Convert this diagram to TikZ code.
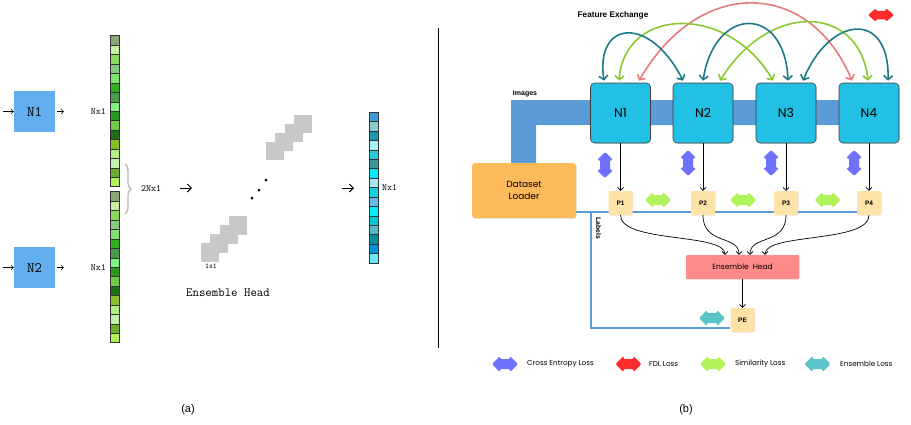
\documentclass[tikz,border=0pt]{standalone}
\usepackage{fontspec}
\setmainfont{Liberation Sans}
\newfontfamily\popf{Poppins}
\usetikzlibrary{arrows.meta,decorations.pathreplacing,shadows}
\pgfdeclarelayer{bgwhite}
\pgfdeclarelayer{background}
\pgfsetlayers{bgwhite,background,main}
\definecolor{nblue}{HTML}{62AEEE}
\definecolor{ncyan}{HTML}{22C0E4}
\definecolor{bandblue}{HTML}{5B9BD8}
\definecolor{dlorange}{HTML}{FDBA5A}
\definecolor{pyellow}{HTML}{FDE3A8}
\definecolor{ehred}{HTML}{FF8A8A}
\definecolor{purp}{HTML}{7070FF}
\definecolor{fdlred}{HTML}{FF2A2A}
\definecolor{simgreen}{HTML}{B2F25A}
\definecolor{enscyan}{HTML}{5BC4C8}
\definecolor{tealarc}{HTML}{1B7A86}
\definecolor{greenarc}{HTML}{8CC832}
\definecolor{redarc}{HTML}{E47C7C}
\definecolor{sqgray}{HTML}{C8C8C8}
\tikzset{
  lbox/.style={fill=nblue, minimum size=41pt, inner sep=0pt, font=\ttfamily\fontsize{14.5}{16}\selectfont},
  cellb/.style={draw=black!80, line width=0.5pt},
  smallarr/.style={-{Straight Barb[length=2.5pt,width=4.5pt]}, line width=0.5pt},
  bigarr/.style={-{Straight Barb[length=4pt,width=8pt]}, line width=1pt},
  monolbl/.style={font=\ttfamily\fontsize{9.5}{11}\selectfont, inner sep=0pt},
  nbox/.style={rounded corners=4pt, fill=ncyan, draw=black!75, line width=0.6pt, minimum size=60pt, inner sep=0pt,
    font=\popf\fontsize{12.5}{14}\selectfont, drop shadow={opacity=0.2,shadow xshift=0.8pt,shadow yshift=-0.8pt}},
  pbox/.style={rounded corners=2pt, fill=pyellow, minimum size=24pt, inner sep=0pt,
    font=\bfseries\fontsize{6.5}{8}\selectfont, drop shadow={opacity=0.2,shadow xshift=0.6pt,shadow yshift=-0.6pt}},
  dlbox/.style={rounded corners=3pt, fill=dlorange, minimum width=104pt, minimum height=55pt, align=center,
    font=\popf\fontsize{9}{12}\selectfont, drop shadow={opacity=0.2,shadow xshift=0.8pt,shadow yshift=-0.8pt}},
  ehbox/.style={rounded corners=1pt, fill=ehred, minimum width=113pt, minimum height=24pt, inner sep=0pt,
    font=\popf\fontsize{7.5}{9}\selectfont, drop shadow={opacity=0.2,shadow xshift=0.6pt,shadow yshift=-0.6pt}},
  blk/.style={-{Straight Barb[length=3pt,width=6pt]}, line width=0.7pt},
  arcbase/.style={{Straight Barb[length=4pt,width=9pt]}-{Straight Barb[length=4pt,width=9pt]}, line width=1.6pt},
  labline/.style={draw=bandblue, line width=1.2pt},
  legtext/.style={anchor=west, font=\popf\fontsize{7.2}{9}\selectfont, inner sep=0pt},
  dblarr/.pic={\fill[#1, rounded corners=1.2pt] (-13,0) -- (-5,-8) -- (-5,-5) -- (5,-5) -- (5,-8) -- (13,0) -- (5,8) -- (5,5) -- (-5,5) -- (-5,8) -- cycle;}
}
\begin{document}
\begin{tikzpicture}[x=1pt,y=-1pt]
\begin{pgfonlayer}{bgwhite}
\fill[white] (0,0) rectangle (911,424);
\end{pgfonlayer}
\useasboundingbox (0,0) rectangle (911,424);

%% ---------------- (a) ----------------
\node[lbox] (a1) at (34.5,111.5) {N1};
\node[lbox] (a2) at (34.5,267.5) {N2};
\coordinate (a1in) at (3,111.5);
\coordinate (a2in) at (3,267.5);
\coordinate (a1out) at (64,111.5);
\coordinate (a2out) at (64,267.5);
\draw[smallarr] (a1in) -- (a1.west);
\draw[smallarr] (a2in) -- (a2.west);
\draw[smallarr] ([xshift=2pt]a1.east) -- (a1out);
\draw[smallarr] ([xshift=2pt]a2.east) -- (a2out);

\foreach \c [count=\i from 0] in {88A878,C8EEA0,8AD860,88C880,80E070,30B020,4A9A50,80F080,28981E,70CC48,1E6E18,8ABE28,B0F080,C4F0B0,6CAE2C,B0F058}{
  \definecolor{tmpc}{HTML}{\c}
  \draw[cellb, fill=tmpc] (110.7,35.7+9.44*\i) rectangle ++(8.6,9.44);
  \draw[cellb, fill=tmpc] (110.7,191.7+9.44*\i) rectangle ++(8.6,9.44);
}
\node[monolbl, anchor=east] (nx1a) at (106,111.5) {Nx1};
\node[monolbl, anchor=east] (nx1b) at (106,267.5) {Nx1};
\draw[decorate, decoration={brace, amplitude=6pt}, draw=black!27, line width=1.4pt] (125,164) -- (125,214);
\node[monolbl, anchor=west] (twonx1) at (141,189) {2Nx1};

\coordinate (ar1s) at (180,188);
\coordinate (ar1e) at (192,188);
\draw[bigarr] (ar1s) -- (ar1e);

\foreach \i in {0,...,3}{
  \fill[sqgray] (201+9.33*\i,243-9*\i) rectangle ++(18,19);
  \fill[sqgray] (266+9.33*\i,142-9*\i) rectangle ++(18,18);
}
\fill (252,198) circle[radius=1.5pt];
\fill (259,190) circle[radius=1.5pt];
\fill (266,180) circle[radius=1.5pt];
\node[font=\ttfamily\fontsize{7.5}{8}\selectfont, inner sep=0pt] (onex1) at (211,266) {1x1};
\node[font=\ttfamily\fontsize{12.5}{14}\selectfont, inner sep=0pt] (ensa) at (228,293) {Ensemble Head};

\coordinate (ar2s) at (342,188);
\coordinate (ar2e) at (354,188);
\draw[bigarr] (ar2s) -- (ar2e);

\foreach \c [count=\i from 0] in {3A9AD8,88CCD0,1A9AA8,A8F0F8,28C8D8,3A9898,08E8F8,A8E8EC,18D0E0,6AB8F0,08EEF8,08C8D8,58B8C0,088E98,0890E0,68E8F0}{
  \definecolor{tmpc}{HTML}{\c}
  \draw[cellb, fill=tmpc] (369.3,112+9.44*\i) rectangle ++(8.6,9.44);
}
\node[monolbl, anchor=west] (nx1c) at (382,187.5) {Nx1};

\coordinate (sept) at (438,28);
\coordinate (sepb) at (438,348);
\draw[line width=0.8pt] (sept) -- (sepb);

\node[font=\fontsize{11}{13}\selectfont] (capa) at (188,410) {(a)};
\node[font=\fontsize{11}{13}\selectfont] (capb) at (686,410) {(b)};

%% ---------------- (b) ----------------
\fill[bandblue] (511,163) -- (511,100) -- (869,100) -- (869,125) -- (536,125) -- (536,163) -- cycle;
\node[font=\bfseries\fontsize{7}{8}\selectfont, inner sep=0pt] (imgs) at (525,94) {Images};

\node[nbox] (n1) at (620.5,113) {N1};
\node[nbox] (n2) at (703,113) {N2};
\node[nbox] (n3) at (786,113) {N3};
\node[nbox] (n4) at (869,113) {N4};

\node[dlbox] (dl) at (524,190.5) {Dataset\\Loader};

\node[pbox] (p1) at (620.5,203) {P1};
\node[pbox] (p2) at (703,203) {P2};
\node[pbox] (p3) at (786,203) {P3};
\node[pbox] (p4) at (869,203) {P4};

\node[ehbox] (eh) at (742.5,267) {Ensemble\ \ Head};
\node[pbox] (pe) at (742.5,320) {PE};

\coordinate (lbl) at (591,212);
\coordinate (lbb) at (591,328);
\begin{pgfonlayer}{background}
\draw[labline] (dl.east |- lbl) -- (p4.west |- lbl);
\draw[labline] (lbl) -- (lbb) -- (pe.west |- lbb);
\end{pgfonlayer}
\node[rotate=-90, font=\bfseries\fontsize{6.8}{8}\selectfont, inner sep=0pt] (lbls) at (598.5,228.5) {Labels};

\node[font=\bfseries\fontsize{8.2}{10}\selectfont, inner sep=0pt] (fex) at (613,15) {Feature Exchange};

% N -> P
\draw[blk] (n1.south) -- (p1.north);
\draw[blk] (n2.south) -- (p2.north);
\draw[blk] (n3.south) -- (p3.north);
\draw[blk] (n4.south) -- (p4.north);

% P -> Ensemble head
\draw[blk] (p1.south) .. controls +(0,28) and +(0,-22) .. ([xshift=-17.5pt]eh.north);
\draw[blk] (p2.south) .. controls +(0,30) and +(0,-20) .. ([xshift=-3.5pt]eh.north);
\draw[blk] (p3.south) .. controls +(0,30) and +(0,-20) .. ([xshift=7.5pt]eh.north);
\draw[blk] (p4.south) .. controls +(0,28) and +(0,-22) .. ([xshift=22.5pt]eh.north);
\draw[blk] (eh.south) -- (pe.north);

% feature exchange arcs
\draw[arcbase, draw=redarc] ([xshift=18.5pt,yshift=2pt]n1.north) .. controls (700,-25) and (810,-20) .. ([xshift=-17pt,yshift=2pt]n4.north);
\draw[arcbase, draw=greenarc] ([xshift=-1.5pt,yshift=2pt]n1.north) .. controls (625,5) and (730,5) .. ([xshift=-13pt,yshift=2pt]n3.north);
\draw[arcbase, draw=greenarc] ([xshift=17pt,yshift=2pt]n2.north) .. controls (770,0) and (860,5) .. ([xshift=-1pt,yshift=2pt]n4.north);
\draw[arcbase, draw=tealarc] ([xshift=-16.5pt,yshift=2pt]n1.north) .. controls (595,20) and (650,15) .. ([xshift=-20pt,yshift=2pt]n2.north);
\draw[arcbase, draw=tealarc] ([xshift=0pt,yshift=2pt]n2.north) .. controls (715,5) and (785,5) .. ([xshift=2pt,yshift=2pt]n3.north);
\draw[arcbase, draw=tealarc] ([xshift=17pt,yshift=2pt]n3.north) .. controls (830,15) and (890,10) .. ([xshift=19pt,yshift=2pt]n4.north);

% loss arrows
\pic[rotate=90] at (605,165) {dblarr=purp};
\pic[rotate=90] at (688,163) {dblarr=purp};
\pic[rotate=90] at (771,163) {dblarr=purp};
\pic[rotate=90] at (854,163) {dblarr=purp};
\pic at (658,200) {dblarr=simgreen};
\pic at (743,200) {dblarr=simgreen};
\pic at (827.5,200) {dblarr=simgreen};
\pic at (712,318) {dblarr=enscyan};
\pic[yscale=0.85] at (881,15) {dblarr=fdlred};

% legend
\pic at (505,364) {dblarr=purp};
\node[legtext] (lg1) at (527,364) {Cross Entropy Loss};
\pic at (628.5,364) {dblarr=fdlred};
\node[legtext] (lg2) at (649,364) {FDL Loss};
\pic at (713,364) {dblarr=simgreen};
\node[legtext] (lg3) at (735,364) {Similarity Loss};
\pic at (817.5,364) {dblarr=enscyan};
\node[legtext] (lg4) at (840,364) {Ensemble Loss};
\end{tikzpicture}
\end{document}
